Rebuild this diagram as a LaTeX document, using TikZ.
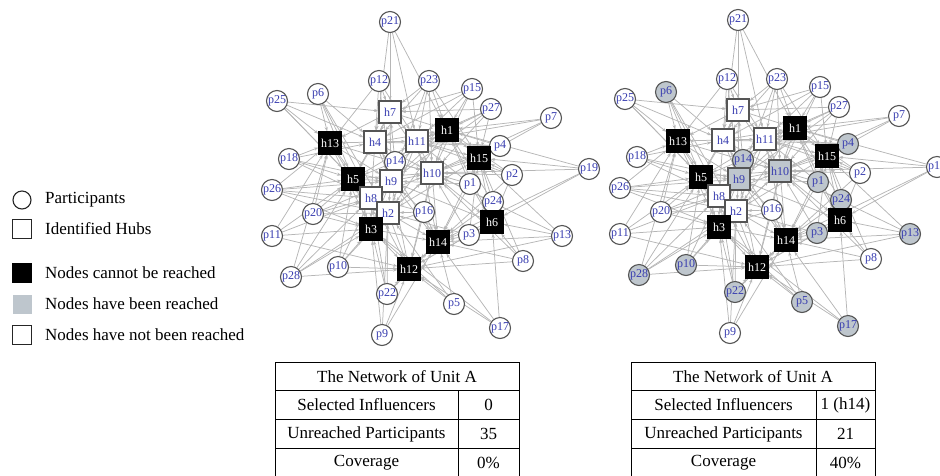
\documentclass[tikz,border=0pt]{standalone}
\usepackage{fontspec}
\setmainfont{Liberation Serif}
\usetikzlibrary{arrows.meta,backgrounds}
\definecolor{lblue}{RGB}{55,60,175}
\definecolor{reach}{RGB}{190,198,205}
\definecolor{edgec}{RGB}{182,182,182}
\definecolor{bord}{RGB}{85,85,85}
\tikzset{
  part/.style={circle,draw=bord,line width=1.1pt,minimum size=21pt,inner sep=0pt,text=lblue,font=\fontsize{12}{12}\selectfont},
  hub/.style={rectangle,draw=bord,line width=1.1pt,minimum size=22pt,inner sep=0pt,text=lblue,font=\fontsize{12}{12}\selectfont},
  pw/.style={part,fill=white},
  pg/.style={part,fill=reach},
  hw/.style={hub,fill=white},
  hg/.style={hub,fill=reach},
  hb/.style={hub,fill=black,draw=black,text=white},
  edge/.style={draw=edgec,line width=0.75pt,-{Stealth[length=4.5pt,width=3.2pt]}},
  legtxt/.style={anchor=west,font=\fontsize{17}{17}\selectfont,inner sep=0pt},
  tabtxt/.style={font=\fontsize{17}{17}\selectfont,inner sep=0pt},
  tabline/.style={draw=black,line width=0.9pt}
}
\begin{document}
\begin{tikzpicture}[x=1pt,y=-1pt]
\useasboundingbox (0,0) rectangle (940,475);
\clip (0,0) rectangle (940,475);
% nodes
\foreach \n/\x/\y/\kL/\kR in {
 p21/390/22/pw/pw, p12/379/81/pw/pw, p23/429/81/pw/pw, p6/318/94/pw/pg,
 p25/277/101/pw/pw, p15/472/89/pw/pw, p27/491/109/pw/pw, p7/551/118/pw/pw,
 h7/390/112/hw/hw, h1/447/130/hb/hb, h13/330/143/hb/hb, h4/375/142/hw/hw,
 h11/417/141/hw/hw, p4/500/146/pw/pg, h15/479/158/hb/hb, p18/289/159/pw/pw,
 p14/395/162/pw/pg, p19/589/169/pw/pw, p2/512/175/pw/pw, h10/432/173/hw/hg,
 h5/353/179/hb/hb, h9/391/181/hw/hg, p1/470/184/pw/pg, p26/272/190/pw/pw,
 h8/371/198/hw/hw, p24/493/202/pw/pg, h2/388/213/hw/hw, p16/424/212/pw/pw,
 p20/313/214/pw/pw, h6/492/222/hb/hb, h3/371/229/hb/hb, p3/469/235/pw/pg,
 p11/272/236/pw/pw, p13/562/236/pw/pg, h14/438/242/hb/hb, p8/523/261/pw/pw,
 p10/338/267/pw/pg, h12/409/269/hb/hb, p28/291/277/pw/pg, p22/387/294/pw/pg,
 p5/454/304/pw/pg, p17/500/328/pw/pg, p9/382/335/pw/pw}{
  \node[\kL] (L\n) at (\x,\y) {\n};
  \node[\kR] (R\n) at (\x+348,\y-2) {\n};
}
% edges
\begin{scope}[on background layer]
\foreach \a/\b in {
 p21/h7, p21/h1, p21/h4, p21/h11,
 p12/h7, p12/h13, p12/h11, p12/h4, p12/h9,
 p23/h7, p23/h1, p23/h11, p23/h4, p23/h9, p23/h15, p23/h10,
 p6/h13, p6/h4, p6/h8, p6/h2, p6/h5,
 p25/h7, p25/h13, p25/h4, p25/h5, p25/h8,
 p15/h1, p15/h11, p15/h7, p15/h10, p15/h15, p15/h4,
 p27/h1, p27/h15, p27/h11, p27/h7, p27/h10, p27/h9,
 p7/h1, p7/h15, p7/h11, p7/h10,
 p4/h1, p4/h15, p4/h10, p4/h4, p4/h11,
 p18/h13, p18/h5, p18/h4, p18/h9, p18/h8,
 p14/h7, p14/h4, p14/h11, p14/h1, p14/h5, p14/h9, p14/h10, p14/h3,
 p19/h15, p19/h10, p19/h6, p19/h14, p19/h1,
 p2/h15, p2/h6, p2/h1, p2/h10, p2/h14, p2/h11,
 p1/h10, p1/h15, p1/h1, p1/h6, p1/h14, p1/h11, p1/h9,
 p26/h5, p26/h13, p26/h8, p26/h3, p26/h9, p26/h2,
 p24/h15, p24/h6, p24/h10, p24/h14, p24/h1,
 p16/h10, p16/h2, p16/h14, p16/h12, p16/h9, p16/h3, p16/h8,
 p20/h5, p20/h3, p20/h8, p20/h13, p20/h2, p20/h9,
 p3/h6, p3/h14, p3/h10, p3/h15, p3/h12, p3/h2,
 p11/h5, p11/h3, p11/h13, p11/h12, p11/h8,
 p13/h6, p13/h14, p13/h12, p13/h15, p13/h10,
 p8/h6, p8/h14, p8/h12, p8/h15, p8/h10,
 p10/h3, p10/h12, p10/h5, p10/h8, p10/h2,
 p28/h3, p28/h5, p28/h8, p28/h12, p28/h13, p28/h2,
 p22/h12, p22/h3, p22/h2, p22/h8, p22/h14,
 p5/h14, p5/h12, p5/h3, p5/h2,
 p17/h14, p17/h6, p17/h12, p17/h3,
 p9/h12, p9/h3, p9/h2, p9/h14,
 h7/h4, h7/h11, h7/h1, h7/h9, h7/h10, h7/h13, h7/h5,
 h4/h11, h4/h13, h4/h5, h4/h9, h4/h8, h4/h10, h4/h1,
 h11/h1, h11/h10, h11/h9, h11/h15, h11/h14, h11/h2,
 h1/h10, h1/h15, h1/h9, h1/h6, h1/h2,
 h13/h5, h13/h9, h13/h8, h13/h3, h13/h10,
 h5/h9, h5/h8, h5/h3, h5/h2, h5/h10, h5/h11,
 h9/h10, h9/h8, h9/h2, h9/h3, h9/h14,
 h10/h15, h10/h2, h10/h14, h10/h6, h10/h12,
 h15/h6, h15/h14, h15/h2,
 h8/h2, h8/h3, h8/h12, h8/h10,
 h2/h3, h2/h12, h2/h14,
 h3/h12, h3/h14, h3/h10,
 h6/h14, h6/h12, h6/h9,
 h14/h12, h14/h4, h12/h9}{
  \draw[edge] (L\a) -- (L\b);
  \draw[edge] (R\a) -- (R\b);
}
\end{scope}
% legend
\node[circle,draw=black!85,line width=1.1pt,minimum size=18pt,inner sep=0pt] (lgc) at (22,200) {};
\node[legtxt] (lgct) at (45,200) {Participants};
\node[rectangle,draw=black!85,line width=1.1pt,minimum size=19pt,inner sep=0pt] (lgh) at (22,229) {};
\node[legtxt] (lght) at (45,229) {Identified Hubs};
\node[rectangle,draw=black,fill=black,minimum size=19pt,inner sep=0pt] (lgb) at (22,273) {};
\node[legtxt] (lgbt) at (45,273) {Nodes cannot be reached};
\node[rectangle,fill=reach,minimum size=19pt,inner sep=0pt] (lgg) at (22,304) {};
\node[legtxt] (lggt) at (45,304) {Nodes have been reached};
\node[rectangle,draw=black!85,line width=1.1pt,minimum size=19pt,inner sep=0pt] (lgw) at (22,335) {};
\node[legtxt] (lgwt) at (45,335) {Nodes have not been reached};
% left table
\draw[tabline] (275,362) rectangle (519,477);
\draw[tabline] (275,390) -- (519,390);
\draw[tabline] (275,419) -- (519,419);
\draw[tabline] (275,448) -- (519,448);
\draw[tabline] (458,390) -- (458,477);
\node[tabtxt] (ta1) at (397,376.5) {The Network of Unit A};
\node[tabtxt] (ta2) at (366.5,405) {Selected Influencers};
\node[tabtxt] (ta3) at (488.5,405) {0};
\node[tabtxt] (ta4) at (366.5,434) {Unreached Participants};
\node[tabtxt] (ta5) at (488.5,434) {35};
\node[tabtxt] (ta6) at (366.5,462.5) {Coverage};
\node[tabtxt] (ta7) at (488.5,462.5) {0\%};
% right table
\draw[tabline] (631,362) rectangle (875,477);
\draw[tabline] (631,390) -- (875,390);
\draw[tabline] (631,419) -- (875,419);
\draw[tabline] (631,448) -- (875,448);
\draw[tabline] (816,390) -- (816,477);
\node[tabtxt] (tb1) at (753,376.5) {The Network of Unit A};
\node[tabtxt] (tb2) at (723.5,405) {Selected Influencers};
\node[tabtxt] (tb3) at (845.5,405) {1 (h14)};
\node[tabtxt] (tb4) at (723.5,434) {Unreached Participants};
\node[tabtxt] (tb5) at (845.5,434) {21};
\node[tabtxt] (tb6) at (723.5,462.5) {Coverage};
\node[tabtxt] (tb7) at (845.5,462.5) {40\%};
\end{tikzpicture}
\end{document}
